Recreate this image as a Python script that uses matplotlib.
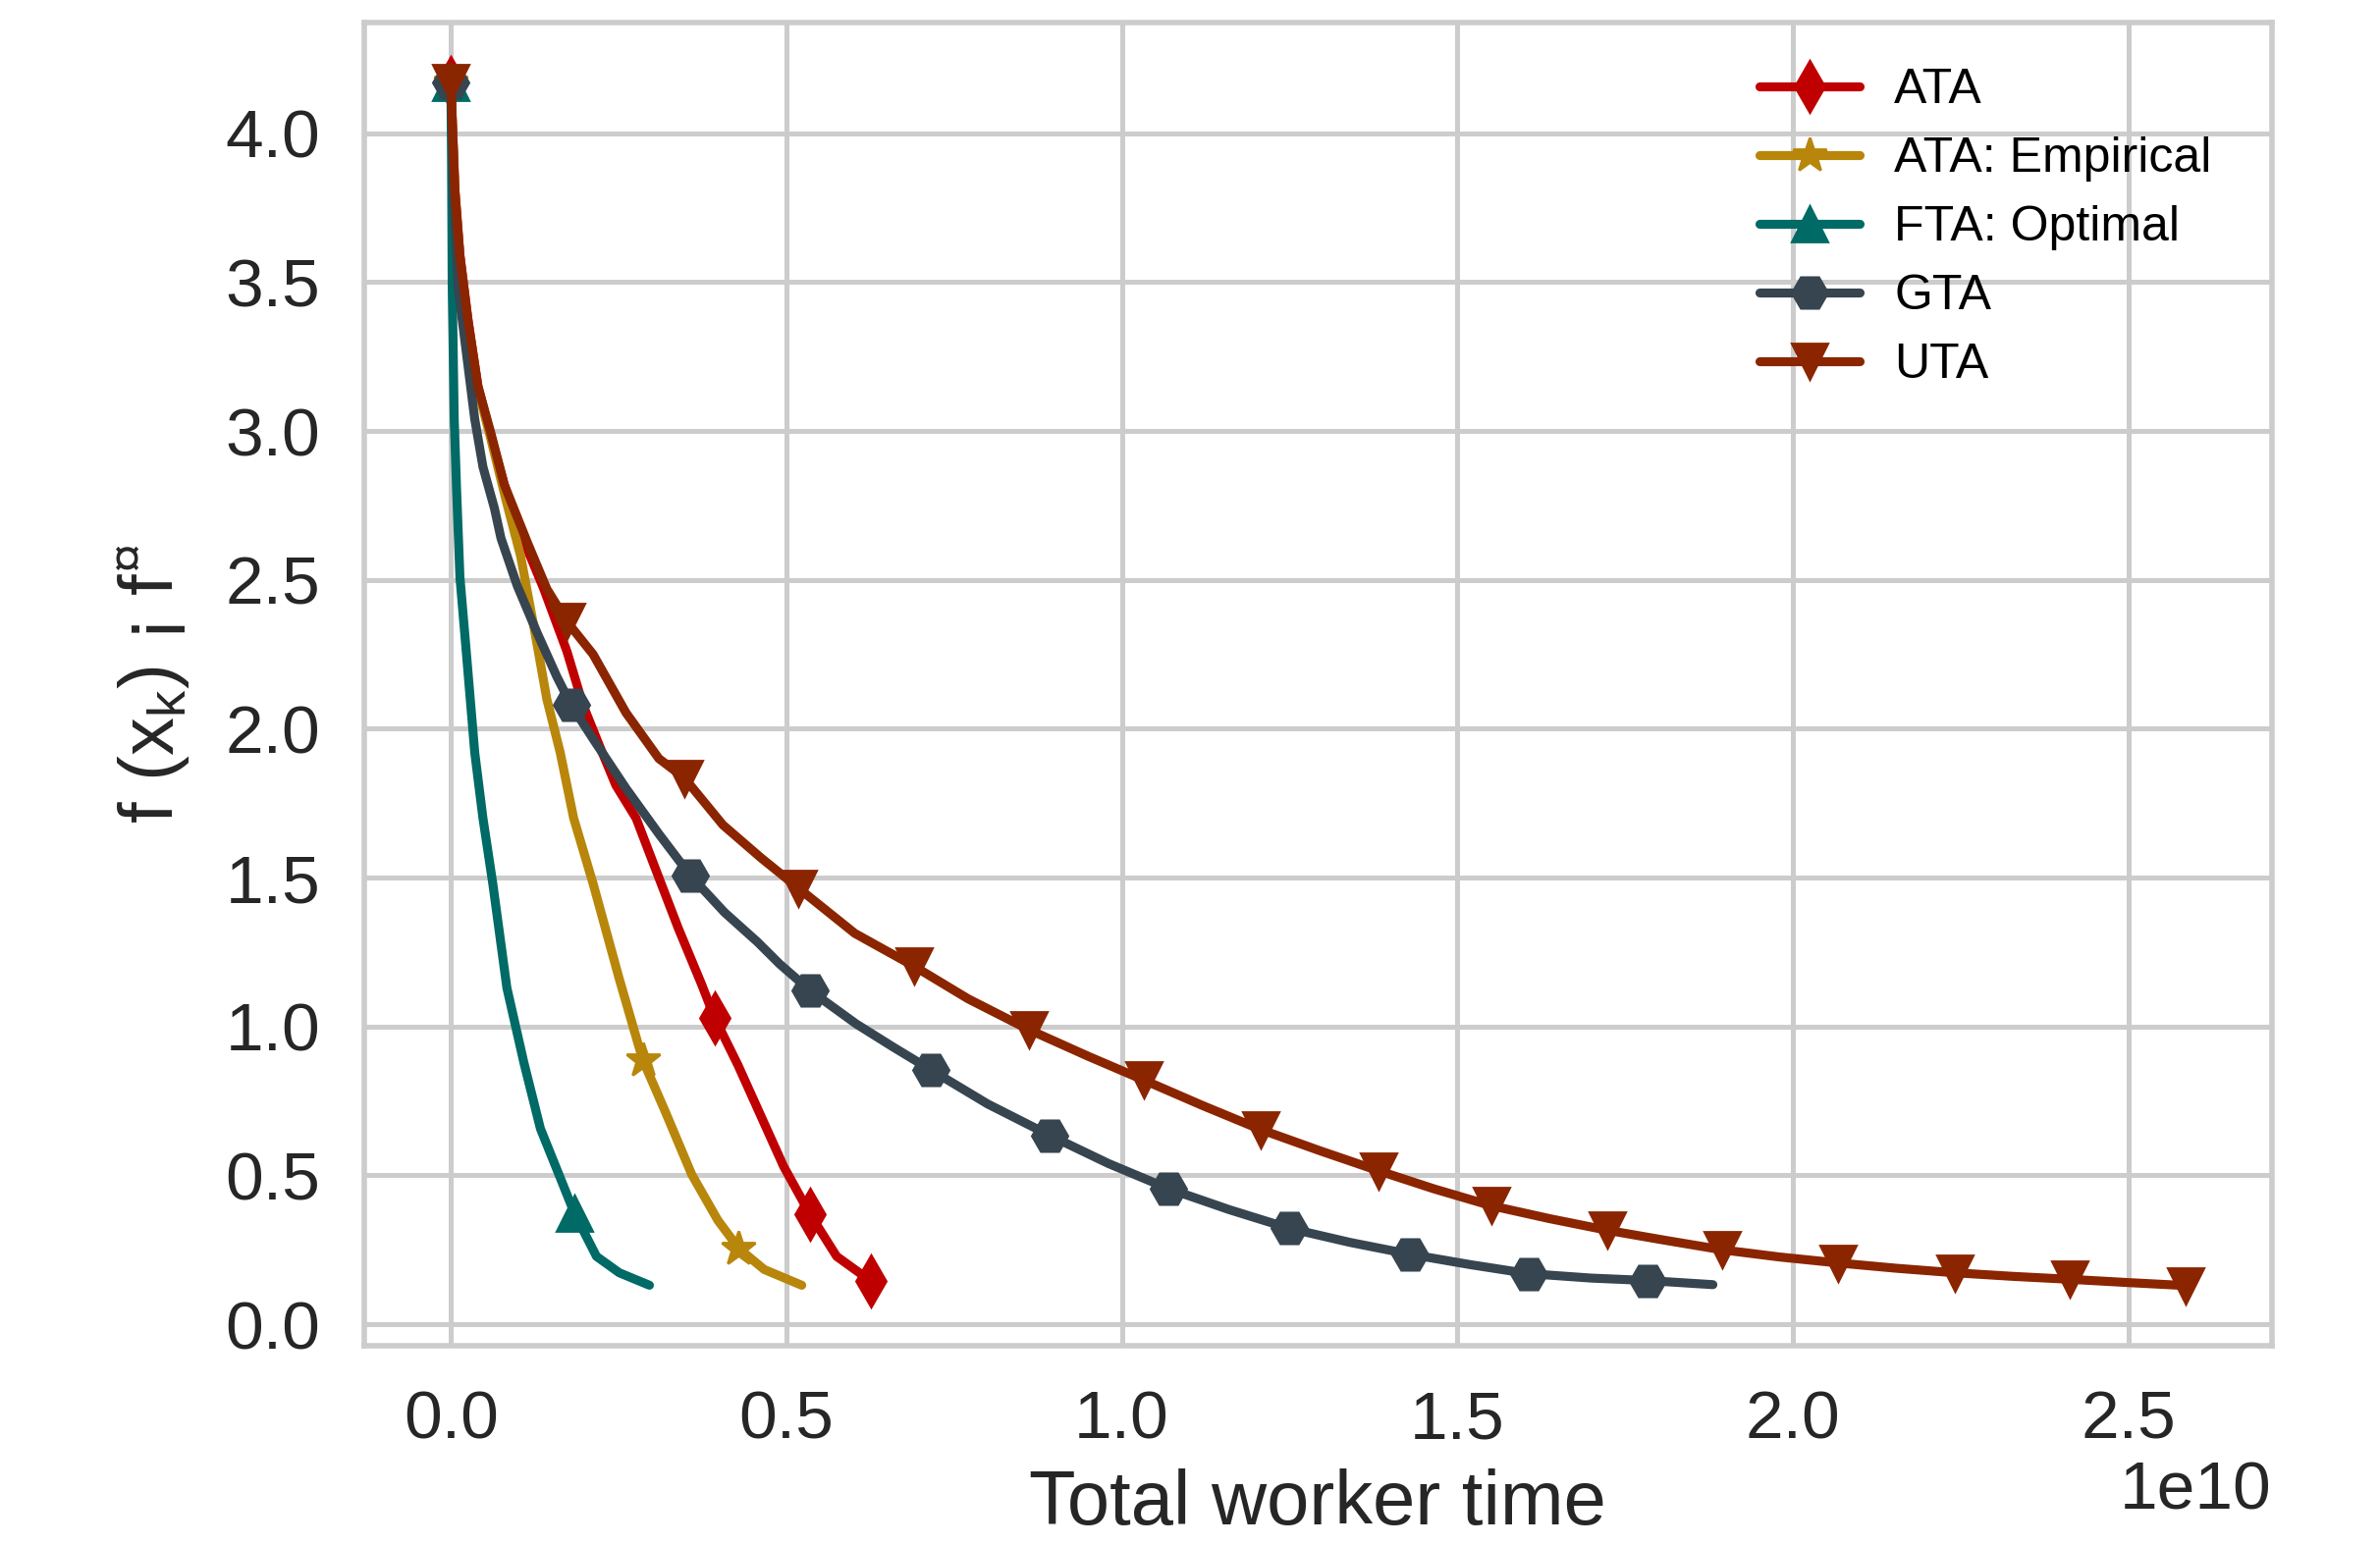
import numpy as np
import matplotlib
matplotlib.use('Agg')
import matplotlib.pyplot as plt

# total worker time in units of 1e10, objective gap on y
ata_t = [0, 0.006, 0.0135, 0.0257, 0.0404, 0.06, 0.0796, 0.109, 0.1385, 0.173, 0.197, 0.222,
         0.246, 0.276, 0.31, 0.339, 0.374, 0.393, 0.428, 0.462, 0.496, 0.535, 0.575, 0.626]
ata_f = [4.17, 3.81, 3.59, 3.37, 3.15, 2.98, 2.82, 2.63, 2.47, 2.26, 2.08, 1.94,
         1.81, 1.70, 1.50, 1.33, 1.14, 1.03, 0.87, 0.70, 0.53, 0.371, 0.228, 0.145]
ata_marks = [0, 17, 21, 23]

emp_t = [0, 0.006, 0.0135, 0.0257, 0.0404, 0.06, 0.082, 0.104, 0.124, 0.143, 0.163,
         0.183, 0.212, 0.251, 0.286, 0.32, 0.359, 0.398, 0.429, 0.467, 0.523]
emp_f = [4.17, 3.80, 3.58, 3.36, 3.14, 2.97, 2.77, 2.58, 2.34, 2.10, 1.92,
         1.70, 1.48, 1.16, 0.888, 0.712, 0.503, 0.349, 0.255, 0.184, 0.131]
emp_marks = [0, 14, 18]

fta_t = [0, 0.001, 0.002, 0.005, 0.0086, 0.0135, 0.0233, 0.0356, 0.0478, 0.0625, 0.0835,
         0.109, 0.1335, 0.163, 0.184, 0.217, 0.251, 0.296]
fta_f = [4.17, 3.92, 3.49, 3.04, 2.80, 2.51, 2.25, 1.92, 1.70, 1.48, 1.13,
         0.877, 0.657, 0.492, 0.374, 0.228, 0.173, 0.131]
fta_marks = [0, 14]

gta_t = [0, 0.004, 0.011, 0.0233, 0.0356, 0.0478, 0.065, 0.0747, 0.099, 0.129, 0.158, 0.179,
         0.212, 0.261, 0.31, 0.357, 0.408, 0.457, 0.49, 0.536, 0.604, 0.66, 0.715, 0.80,
         0.893, 0.98, 1.07, 1.16, 1.25, 1.34, 1.43, 1.52, 1.606, 1.70, 1.783, 1.881]
gta_f = [4.17, 3.80, 3.48, 3.26, 3.04, 2.88, 2.74, 2.64, 2.48, 2.32, 2.175, 2.081,
         1.966, 1.80, 1.647, 1.507, 1.383, 1.284, 1.21, 1.12, 1.009, 0.93, 0.855, 0.74,
         0.634, 0.54, 0.455, 0.385, 0.322, 0.275, 0.235, 0.20, 0.17, 0.155, 0.147, 0.133]
gta_marks = [0, 11, 15, 19, 22, 24, 26, 28, 30, 32, 34]

uta_t = [0, 0.006, 0.0135, 0.0257, 0.0404, 0.06, 0.0796, 0.114, 0.143, 0.173, 0.212, 0.261,
         0.31, 0.348, 0.4055, 0.462, 0.518, 0.602, 0.69, 0.771, 0.861, 0.95, 1.033, 1.12,
         1.207, 1.295, 1.382, 1.465, 1.551, 1.637, 1.723, 1.81, 1.895, 1.98, 2.067, 2.155,
         2.241, 2.327, 2.413, 2.50, 2.585]
uta_f = [4.17, 3.81, 3.59, 3.37, 3.15, 2.99, 2.82, 2.626, 2.47, 2.36, 2.25, 2.054,
         1.90, 1.835, 1.677, 1.567, 1.465, 1.313, 1.203, 1.093, 0.99, 0.90, 0.82, 0.735,
         0.654, 0.583, 0.516, 0.455, 0.398, 0.355, 0.316, 0.282, 0.25, 0.226, 0.206, 0.188,
         0.173, 0.161, 0.151, 0.14, 0.13]
uta_marks = [0, 9, 13, 16] + list(range(18, 41, 2))

labels = ['ATA', 'ATA: Empirical', 'FTA: Optimal', 'GTA', 'UTA']
colors = ['#C00000', '#B8860B', '#006A66', '#36454F', '#8B2500']
markers = ['d', '*', '^', 'H', 'v']

plt.rcParams['font.family'] = ['Liberation Sans', 'DejaVu Sans']
plt.rcParams['mathtext.fontset'] = 'custom'
plt.rcParams['mathtext.rm'] = 'Liberation Sans'
plt.rcParams['mathtext.it'] = 'Liberation Sans'

fig = plt.figure(figsize=(12.12, 7.87), dpi=200)
ax = fig.add_axes([0.153, 0.129, 0.8016, 0.8564])

series = [(ata_t, ata_f, ata_marks), (emp_t, emp_f, emp_marks), (fta_t, fta_f, fta_marks),
          (gta_t, gta_f, gta_marks), (uta_t, uta_f, uta_marks)]
for (t, f, mk), lab, col, m in zip(series, labels, colors, markers):
    ax.plot(np.array(t) * 1e10, f, color=col, lw=3.3, marker=m, ms=13,
            markevery=mk, label=lab, solid_capstyle='round', solid_joinstyle='round')

ax.set_facecolor('white')
ax.grid(True, color='#cccccc', lw=1.8)
ax.set_axisbelow(True)
for s in ax.spines.values():
    s.set_color('#cccccc')
    s.set_linewidth(2.0)
ax.tick_params(length=0, labelsize=25, labelcolor='#262626', pad=16)
ax.xaxis.get_offset_text().set_fontsize(25)
ax.xaxis.get_offset_text().set_color('#262626')

ax.set_xlabel('Total worker time', fontsize=28, color='#262626', labelpad=6)
ax.set_ylabel(r'f (x$_{\mathrm{k}}$) ¡ f$^{¤}$', fontsize=28, color='#262626', labelpad=12)

ax.legend(loc='upper left', bbox_to_anchor=(0.708, 0.999), frameon=False, fontsize=18,
          handlelength=2.05, handletextpad=0.7, labelspacing=0.48)

fig.savefig('out.png', dpi=200)
